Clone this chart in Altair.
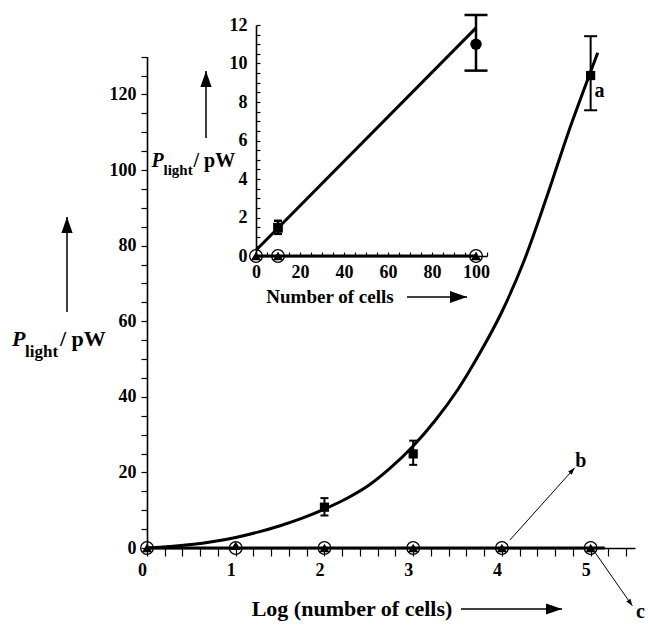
import altair as alt
import pandas as pd

# ---------------- data ----------------
# main panel: fitted curve "a"
curve_x = [0.0, 0.25, 0.5, 0.75, 1.0, 1.25, 1.5, 1.75, 2.0, 2.25, 2.5, 2.75,
           3.0, 3.25, 3.5, 3.75, 4.0, 4.25, 4.5, 4.75, 5.0, 5.08]
curve_y = [0.0, 0.4, 0.9, 1.7, 2.8, 4.2, 5.9, 7.9, 10.3, 13.1, 16.6, 21.3,
           27.0, 33.8, 41.8, 51.5, 62.5, 76.0, 92.5, 110.0, 126.0, 131.0]
# main panel: measured points "a" (squares with error bars)
a_x = [2, 3, 5]
a_y = [10.8, 24.9, 125.0]
a_lo = [8.6, 22.0, 115.8]
a_hi = [13.2, 28.4, 135.4]
# main panel: series b (triangles) and c (open circles) at zero
bc_x = [0, 1, 2, 3, 4, 5]
b_y = [0, 0.6, 0, 0, 0, 0]
c_y = [0, 0, 0, 0, 0, 0]
bc_line_x = [0, 5.16]
bc_line_y = [0, 0]

# inset: linear fit "a" and points
in_fit_x = [0, 100]
in_fit_y = [0.3, 11.85]
in_sq_x = [10]
in_sq_y = [1.47]
in_dot_x = [100]
in_dot_y = [11.0]
in_err_x = [10, 100]
in_err_lo = [1.15, 9.63]
in_err_hi = [1.83, 12.52]
in_zero_x = [0, 10, 100]
in_zero_y = [0, 0, 0]
in_zero_line_x = [0, 100]

# labels for the curves
lab_text = ["a", "b", "c"]
lab_x = [5.1, 4.89, 5.56]
lab_y = [121.0, 23.0, -17.0]
# annotation arrows (data coordinates of the main panel)
arr_x = [4.09, 5.03]
arr_y = [2.1, -0.5]
arr_x2 = [4.82, 5.47]
arr_y2 = [21.2, -15.3]

# ---------------- layout / style ----------------
FONT = "Liberation Serif"
OX, OY = 147, 20            # plot origin on the page
W, H = 501, 528

MX = alt.Scale(domain=[0, 5.5], range=[0, 488], nice=False, zero=False)
MY = alt.Scale(domain=[0, 130], range=[528, 528 - 130 * 3.78], nice=False)
IX = alt.Scale(domain=[0, 105], range=[109, 340], nice=False, zero=False)
IY = alt.Scale(domain=[0, 12], range=[236, 5], nice=False)

common_axis = dict(title=None, grid=False, domainColor="black", tickColor="black",
                   labelColor="black", labelFont=FONT, labelFontSize=18,
                   labelFontWeight="bold", labelFlush=False, labelOverlap=False,
                   tickWidth=1.2, domainWidth=1.6)

main_x_axis = alt.Axis(orient="bottom", values=[round(i * 0.2, 1) for i in range(28)],
                       labelExpr="abs(datum.value - round(datum.value)) < 0.01 ? format(datum.value, 'd') : ''",
                       tickSize=8, labelPadding=5, labelOffset=-5, **common_axis)
main_y_axis = alt.Axis(orient="left", values=list(range(0, 131, 5)),
                       labelExpr="datum.value % 20 === 0 ? format(datum.value, 'd') : ''",
                       tickSize=6, labelPadding=5, **common_axis)
inset_x_axis = alt.Axis(orient="top", offset=-236, values=list(range(0, 106, 5)),
                        labelExpr="(datum.value % 20 === 0 && datum.value <= 100) ? format(datum.value, 'd') : ''",
                        tickSize=4, labelPadding=-11, labelBaseline="top", **common_axis)
inset_y_axis = alt.Axis(orient="right", offset=109 - W, values=[i * 0.5 for i in range(25)],
                        labelExpr="datum.value % 2 === 0 ? format(datum.value, 'd') : ''",
                        tickSize=4, labelPadding=-13, labelAlign="right", **common_axis)


def mx(f="x"):
    return alt.X(f"{f}:Q", scale=MX, axis=main_x_axis)


def my(f="y"):
    return alt.Y(f"{f}:Q", scale=MY, axis=main_y_axis)


def ix(f="x"):
    return alt.X(f"{f}:Q", scale=IX, axis=inset_x_axis)


def iy(f="y"):
    return alt.Y(f"{f}:Q", scale=IY, axis=inset_y_axis)


ONE = pd.DataFrame({"k": [0]})
HEAD = "M0,0L-0.7,2L0.7,2Z"


def txt(s, px, py, size, style="normal", align="left", baseline="alphabetic"):
    return alt.Chart(ONE).mark_text(text=s, font=FONT, fontSize=size, fontWeight="bold",
                                    fontStyle=style, align=align, baseline=baseline,
                                    color="black").encode(x=alt.value(px - OX), y=alt.value(py - OY))


def page_arrow(x1, y1, x2, y2, angle, r=8, width=1.5):
    shaft = alt.Chart(ONE).mark_rule(color="black", strokeWidth=width).encode(
        x=alt.value(x1 - OX), x2=alt.value(x2 - OX), y=alt.value(y1 - OY), y2=alt.value(y2 - OY))
    head = alt.Chart(ONE).mark_point(shape=HEAD, filled=True, color="black", opacity=1,
                                     size=(2 * r) ** 2, angle=angle, strokeWidth=0).encode(
        x=alt.value(x2 - OX), y=alt.value(y2 - OY))
    return [shaft, head]


# ---------------- main panel ----------------
df_curve = pd.DataFrame({"x": curve_x, "y": curve_y})
df_a = pd.DataFrame({"x": a_x, "y": a_y, "lo": a_lo, "hi": a_hi})
cap_main = [8, 8, 13]
df_caps = pd.DataFrame({"x": a_x * 2, "y": a_lo + a_hi, "cap": cap_main * 2})
df_b = pd.DataFrame({"x": bc_x, "y": b_y})
df_c = pd.DataFrame({"x": bc_x, "y": c_y})
df_bcl = pd.DataFrame({"x": bc_line_x, "y": bc_line_y})
df_lab = pd.DataFrame({"x": lab_x, "y": lab_y, "t": lab_text})
df_arr = pd.DataFrame({"x": arr_x, "y": arr_y, "x2": arr_x2, "y2": arr_y2,
                       "ang": [41.9, 146.0]})

main_parts = [
    alt.Chart(df_bcl).mark_line(color="black", strokeWidth=3).encode(x=mx(), y=my()),
    alt.Chart(df_curve).mark_line(color="black", strokeWidth=3, interpolate="catmull-rom").encode(x=mx(), y=my()),
    alt.Chart(df_a).mark_rule(color="black", strokeWidth=2).encode(x=mx(), y=my("lo"), y2="hi:Q"),
    alt.Chart(df_caps).mark_tick(orient="horizontal", color="black", thickness=2, opacity=1).encode(
        x=mx(), y=my(), size=alt.Size("cap:Q", scale=None, legend=None)),
    alt.Chart(df_a).mark_point(shape="square", filled=True, color="black", opacity=1, size=85).encode(x=mx(), y=my()),
    alt.Chart(df_b).mark_point(shape="triangle-up", filled=True, color="black", opacity=1, size=100).encode(x=mx(), y=my()),
    alt.Chart(df_c).mark_point(shape="circle", filled=False, color="black", opacity=1, size=160, strokeWidth=1.3).encode(x=mx(), y=my()),
    alt.Chart(df_arr).mark_rule(color="black", strokeWidth=1).encode(x=mx(), y=my(), x2="x2:Q", y2="y2:Q"),
    alt.Chart(df_arr).mark_point(shape=HEAD, filled=True, color="black", opacity=1, size=49, strokeWidth=0).encode(
        x=mx("x2"), y=my("y2"), angle=alt.Angle("ang:Q", scale=None)),
    alt.Chart(df_lab).mark_text(font=FONT, fontSize=20, fontWeight="bold", color="black",
                                align="center", baseline="middle").encode(x=mx(), y=my(), text="t:N"),
    # axis titles
    txt("P", 12, 346, 22, style="italic"),
    txt("light", 25, 357, 17),
    txt("/ pW", 60, 346, 22),
    txt("Log (number of cells)", 352, 616, 22, align="center"),
    txt("P", 151.5, 167, 20, style="italic"),
    txt("light", 163.5, 175, 15),
    txt("/ pW", 193.5, 167, 20),
    txt("Number of cells", 330, 303, 19, align="center"),
]
main_parts += page_arrow(67, 312, 67, 217, 0)
main_parts += page_arrow(206, 138, 206, 71, 0)
main_parts += page_arrow(461, 609, 562, 609, 90)
main_parts += page_arrow(407, 297, 467, 297, 90, r=8.5)

main = alt.layer(*main_parts)

# ---------------- inset panel ----------------
df_ifit = pd.DataFrame({"x": in_fit_x, "y": in_fit_y})
df_isq = pd.DataFrame({"x": in_sq_x, "y": in_sq_y})
df_idot = pd.DataFrame({"x": in_dot_x, "y": in_dot_y})
df_ierr = pd.DataFrame({"x": in_err_x, "lo": in_err_lo, "hi": in_err_hi})
cap_inset = [8, 23]
df_icaps = pd.DataFrame({"x": in_err_x * 2, "y": in_err_lo + in_err_hi, "cap": cap_inset * 2})
df_izero = pd.DataFrame({"x": in_zero_x, "y": in_zero_y})
df_izl = pd.DataFrame({"x": in_zero_line_x, "y": [0, 0]})

inset_parts = [
    alt.Chart(df_izl).mark_line(color="black", strokeWidth=3).encode(x=ix(), y=iy()),
    alt.Chart(df_ifit).mark_line(color="black", strokeWidth=3).encode(x=ix(), y=iy()),
    alt.Chart(df_ierr).mark_rule(color="black", strokeWidth=2.5).encode(x=ix(), y=iy("lo"), y2="hi:Q"),
    alt.Chart(df_icaps).mark_tick(orient="horizontal", color="black", thickness=2.5, opacity=1).encode(
        x=ix(), y=iy(), size=alt.Size("cap:Q", scale=None, legend=None)),
    alt.Chart(df_isq).mark_point(shape="square", filled=True, color="black", opacity=1, size=95).encode(x=ix(), y=iy()),
    alt.Chart(df_idot).mark_point(shape="circle", filled=True, color="black", opacity=1, size=130).encode(x=ix(), y=iy()),
    alt.Chart(df_izero).mark_point(shape="triangle-up", filled=True, color="black", opacity=1, size=100).encode(x=ix(), y=iy()),
    alt.Chart(df_izero).mark_point(shape="circle", filled=False, color="black", opacity=1, size=160, strokeWidth=1.3).encode(x=ix(), y=iy()),
]
inset = alt.layer(*inset_parts)

chart = alt.layer(main, inset).resolve_scale(
    x="independent", y="independent"
).resolve_axis(
    x="independent", y="independent"
).properties(
    width=W, height=H,
    padding={"left": OX, "top": OY, "right": 0, "bottom": 628 - OY - H},
    autosize="none", background="white",
).configure_view(stroke=None)

chart.save("out.html", embed_options={"renderer": "svg", "actions": False})
